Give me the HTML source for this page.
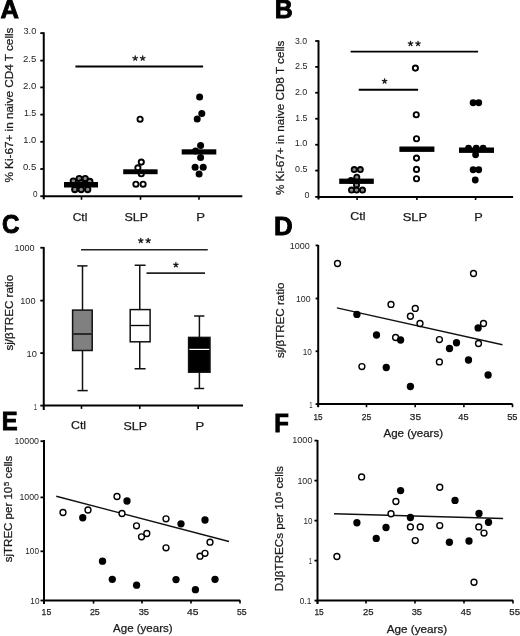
<!DOCTYPE html>
<html><head><meta charset="utf-8"><title>Figure</title>
<style>html,body{margin:0;padding:0;background:#fff;overflow:hidden;}svg{display:block;will-change:transform;}text{font-family:"Liberation Sans",sans-serif;}</style>
</head><body>
<svg width="520" height="636" viewBox="0 0 520 636">
<rect width="520" height="636" fill="#fff"/>
<text x="0.41" y="18.35" font-size="26.23188405797102" font-weight="bold" fill="#000" stroke="#000" stroke-width="0.9" textLength="18.43" lengthAdjust="spacingAndGlyphs">A</text>
<text x="274.63" y="18.15" font-size="25.942028985507253" font-weight="bold" fill="#000" stroke="#000" stroke-width="0.9" textLength="18.00" lengthAdjust="spacingAndGlyphs">B</text>
<text x="1.93" y="233.05" font-size="26.086956521739143" font-weight="bold" fill="#000" stroke="#000" stroke-width="0.9" textLength="17.48" lengthAdjust="spacingAndGlyphs">C</text>
<text x="273.96" y="235.35" font-size="25.79710144927539" font-weight="bold" fill="#000" stroke="#000" stroke-width="0.9" textLength="18.73" lengthAdjust="spacingAndGlyphs">D</text>
<text x="1.85" y="429.95" font-size="25.79710144927535" font-weight="bold" fill="#000" stroke="#000" stroke-width="0.9" textLength="15.88" lengthAdjust="spacingAndGlyphs">E</text>
<text x="274.35" y="432.05" font-size="25.217391304347846" font-weight="bold" fill="#000" stroke="#000" stroke-width="0.9" textLength="14.61" lengthAdjust="spacingAndGlyphs">F</text>
<line x1="43.75" y1="32.30" x2="43.75" y2="199.30" stroke="#000" stroke-width="2"/>
<line x1="42.80" y1="196.20" x2="242.30" y2="196.20" stroke="#000" stroke-width="2"/>
<line x1="40.30" y1="33.10" x2="43.75" y2="33.10" stroke="#000" stroke-width="1.8"/>
<line x1="40.30" y1="60.60" x2="43.75" y2="60.60" stroke="#000" stroke-width="1.8"/>
<line x1="40.30" y1="87.40" x2="43.75" y2="87.40" stroke="#000" stroke-width="1.8"/>
<line x1="40.30" y1="114.60" x2="43.75" y2="114.60" stroke="#000" stroke-width="1.8"/>
<line x1="40.30" y1="141.80" x2="43.75" y2="141.80" stroke="#000" stroke-width="1.8"/>
<line x1="40.30" y1="169.00" x2="43.75" y2="169.00" stroke="#000" stroke-width="1.8"/>
<line x1="40.30" y1="196.20" x2="43.75" y2="196.20" stroke="#000" stroke-width="1.8"/>
<text x="23.48" y="34.25" font-size="9.4" font-weight="normal" fill="#1e1e1e" textLength="12.79" lengthAdjust="spacingAndGlyphs">3.0</text>
<text x="22.97" y="61.75" font-size="9.4" font-weight="normal" fill="#1e1e1e" textLength="13.37" lengthAdjust="spacingAndGlyphs">2.5</text>
<text x="22.97" y="88.50" font-size="9.4" font-weight="normal" fill="#1e1e1e" textLength="13.32" lengthAdjust="spacingAndGlyphs">2.0</text>
<text x="23.88" y="115.75" font-size="9.4" font-weight="normal" fill="#1e1e1e" textLength="12.43" lengthAdjust="spacingAndGlyphs">1.5</text>
<text x="23.25" y="143.25" font-size="9.4" font-weight="normal" fill="#1e1e1e" textLength="13.03" lengthAdjust="spacingAndGlyphs">1.0</text>
<text x="23.07" y="170.10" font-size="9.4" font-weight="normal" fill="#1e1e1e" textLength="13.26" lengthAdjust="spacingAndGlyphs">0.5</text>
<text x="33.12" y="197.00" font-size="9.4" font-weight="normal" fill="#1e1e1e" textLength="4.52" lengthAdjust="spacingAndGlyphs">0</text>
<line x1="81.50" y1="196.00" x2="81.50" y2="199.80" stroke="#000" stroke-width="1.6"/>
<line x1="140.50" y1="196.00" x2="140.50" y2="199.80" stroke="#000" stroke-width="1.6"/>
<line x1="199.00" y1="196.00" x2="199.00" y2="199.80" stroke="#000" stroke-width="1.6"/>
<text x="72.65" y="220.60" font-size="11.2" font-weight="normal" fill="#1a1a1a" stroke="#1a1a1a" stroke-width="0.25" textLength="14.71" lengthAdjust="spacingAndGlyphs">Ctl</text>
<text x="124.54" y="221.40" font-size="11.2" font-weight="normal" fill="#1a1a1a" stroke="#1a1a1a" stroke-width="0.25" textLength="23.64" lengthAdjust="spacingAndGlyphs">SLP</text>
<text x="196.20" y="221.30" font-size="11.2" font-weight="normal" fill="#1a1a1a" stroke="#1a1a1a" stroke-width="0.25" textLength="8.73" lengthAdjust="spacingAndGlyphs">P</text>
<text transform="translate(13.30,182.56) rotate(-90)" font-size="11.4" fill="#1a1a1a" stroke="#1a1a1a" stroke-width="0.25" textLength="155.02" lengthAdjust="spacingAndGlyphs">% Ki-67+ in naive CD4 T cells</text>
<line x1="75.40" y1="66.50" x2="203.10" y2="66.50" stroke="#000" stroke-width="1.8"/>
<path d="M135.20 58.25L135.20 55.90M135.20 58.25L137.43 57.52M135.20 58.25L136.58 60.15M135.20 58.25L133.82 60.15M135.20 58.25L132.97 57.52" stroke="#1a1a1a" stroke-width="1.3" stroke-linecap="round" fill="none"/>
<path d="M142.70 58.25L142.70 55.90M142.70 58.25L144.93 57.52M142.70 58.25L144.08 60.15M142.70 58.25L141.32 60.15M142.70 58.25L140.47 57.52" stroke="#1a1a1a" stroke-width="1.3" stroke-linecap="round" fill="none"/>
<circle cx="79.2" cy="178.6" r="2.7" fill="#888" stroke="#000" stroke-width="1.9"/>
<circle cx="85.2" cy="178.6" r="2.7" fill="#888" stroke="#000" stroke-width="1.9"/>
<circle cx="73.3" cy="181.1" r="2.7" fill="#888" stroke="#000" stroke-width="1.9"/>
<circle cx="89.8" cy="181.5" r="2.7" fill="#888" stroke="#000" stroke-width="1.9"/>
<circle cx="81" cy="183" r="2.7" fill="#888" stroke="#000" stroke-width="1.9"/>
<circle cx="74.8" cy="189.5" r="2.7" fill="#888" stroke="#000" stroke-width="1.9"/>
<circle cx="81.2" cy="189.5" r="2.7" fill="#888" stroke="#000" stroke-width="1.9"/>
<circle cx="87.7" cy="189.5" r="2.7" fill="#888" stroke="#000" stroke-width="1.9"/>
<rect x="64.00" y="182.00" width="34.00" height="5.50" fill="#000"/>
<circle cx="140.1" cy="119.2" r="2.6" fill="#fff" stroke="#000" stroke-width="1.9"/>
<circle cx="141.3" cy="162.1" r="2.6" fill="#fff" stroke="#000" stroke-width="1.9"/>
<circle cx="137.9" cy="167.8" r="2.6" fill="#fff" stroke="#000" stroke-width="1.9"/>
<circle cx="141.3" cy="173.8" r="2.6" fill="#fff" stroke="#000" stroke-width="1.9"/>
<circle cx="135.9" cy="184.2" r="2.6" fill="#fff" stroke="#000" stroke-width="1.9"/>
<circle cx="143.1" cy="184.2" r="2.6" fill="#fff" stroke="#000" stroke-width="1.9"/>
<rect x="123.20" y="169.30" width="34.40" height="4.90" fill="#000"/>
<circle cx="199.6" cy="97" r="3.5" fill="#000"/>
<circle cx="201.8" cy="113.4" r="3.5" fill="#000"/>
<circle cx="197.2" cy="119.1" r="3.5" fill="#000"/>
<circle cx="200.6" cy="145.5" r="3.5" fill="#000"/>
<circle cx="195.5" cy="151" r="3.5" fill="#000"/>
<circle cx="200.6" cy="157.5" r="3.5" fill="#000"/>
<circle cx="195.1" cy="167.2" r="3.5" fill="#000"/>
<circle cx="203.2" cy="167.2" r="3.5" fill="#000"/>
<circle cx="199.1" cy="173.9" r="3.5" fill="#000"/>
<rect x="181.70" y="149.30" width="34.60" height="5.20" fill="#000"/>
<line x1="318.50" y1="40.30" x2="318.50" y2="199.50" stroke="#000" stroke-width="2"/>
<line x1="317.50" y1="196.90" x2="513.10" y2="196.90" stroke="#000" stroke-width="2"/>
<line x1="315.20" y1="41.00" x2="318.50" y2="41.00" stroke="#000" stroke-width="1.8"/>
<line x1="315.20" y1="66.90" x2="318.50" y2="66.90" stroke="#000" stroke-width="1.8"/>
<line x1="315.20" y1="92.75" x2="318.50" y2="92.75" stroke="#000" stroke-width="1.8"/>
<line x1="315.20" y1="118.75" x2="318.50" y2="118.75" stroke="#000" stroke-width="1.8"/>
<line x1="315.20" y1="144.75" x2="318.50" y2="144.75" stroke="#000" stroke-width="1.8"/>
<line x1="315.20" y1="170.60" x2="318.50" y2="170.60" stroke="#000" stroke-width="1.8"/>
<line x1="315.20" y1="196.90" x2="318.50" y2="196.90" stroke="#000" stroke-width="1.8"/>
<text x="295.00" y="43.50" font-size="9.0" font-weight="normal" fill="#1e1e1e" textLength="12.16" lengthAdjust="spacingAndGlyphs">3.0</text>
<text x="294.90" y="69.25" font-size="9.0" font-weight="normal" fill="#1e1e1e" textLength="12.51" lengthAdjust="spacingAndGlyphs">2.5</text>
<text x="294.90" y="95.10" font-size="9.0" font-weight="normal" fill="#1e1e1e" textLength="12.46" lengthAdjust="spacingAndGlyphs">2.0</text>
<text x="295.30" y="120.50" font-size="9.0" font-weight="normal" fill="#1e1e1e" textLength="12.10" lengthAdjust="spacingAndGlyphs">1.5</text>
<text x="294.66" y="146.40" font-size="9.0" font-weight="normal" fill="#1e1e1e" textLength="12.71" lengthAdjust="spacingAndGlyphs">1.0</text>
<text x="294.99" y="172.25" font-size="9.0" font-weight="normal" fill="#1e1e1e" textLength="12.42" lengthAdjust="spacingAndGlyphs">0.5</text>
<text x="304.39" y="197.60" font-size="9.0" font-weight="normal" fill="#1e1e1e" textLength="4.98" lengthAdjust="spacingAndGlyphs">0</text>
<line x1="357.10" y1="196.70" x2="357.10" y2="200.00" stroke="#000" stroke-width="1.6"/>
<line x1="416.90" y1="196.70" x2="416.90" y2="200.00" stroke="#000" stroke-width="1.6"/>
<line x1="475.60" y1="196.70" x2="475.60" y2="200.00" stroke="#000" stroke-width="1.6"/>
<text x="350.33" y="220.40" font-size="11.2" font-weight="normal" fill="#1a1a1a" stroke="#1a1a1a" stroke-width="0.25" textLength="15.15" lengthAdjust="spacingAndGlyphs">Ctl</text>
<text x="402.67" y="221.30" font-size="11.2" font-weight="normal" fill="#1a1a1a" stroke="#1a1a1a" stroke-width="0.25" textLength="24.54" lengthAdjust="spacingAndGlyphs">SLP</text>
<text x="474.33" y="221.30" font-size="11.2" font-weight="normal" fill="#1a1a1a" stroke="#1a1a1a" stroke-width="0.25" textLength="8.48" lengthAdjust="spacingAndGlyphs">P</text>
<text transform="translate(283.90,195.06) rotate(-90)" font-size="11.4" fill="#1a1a1a" stroke="#1a1a1a" stroke-width="0.25" textLength="154.51" lengthAdjust="spacingAndGlyphs">% Ki-67+ in naive CD8 T cells</text>
<line x1="350.60" y1="51.60" x2="478.10" y2="51.60" stroke="#000" stroke-width="1.8"/>
<path d="M410.50 43.65L410.50 41.30M410.50 43.65L412.73 42.92M410.50 43.65L411.88 45.55M410.50 43.65L409.12 45.55M410.50 43.65L408.27 42.92" stroke="#1a1a1a" stroke-width="1.3" stroke-linecap="round" fill="none"/>
<path d="M418.00 43.65L418.00 41.30M418.00 43.65L420.23 42.92M418.00 43.65L419.38 45.55M418.00 43.65L416.62 45.55M418.00 43.65L415.77 42.92" stroke="#1a1a1a" stroke-width="1.3" stroke-linecap="round" fill="none"/>
<line x1="358.75" y1="89.75" x2="418.10" y2="89.75" stroke="#000" stroke-width="1.8"/>
<path d="M384.60 81.15L384.60 78.80M384.60 81.15L386.83 80.42M384.60 81.15L385.98 83.05M384.60 81.15L383.22 83.05M384.60 81.15L382.37 80.42" stroke="#1a1a1a" stroke-width="1.3" stroke-linecap="round" fill="none"/>
<circle cx="354.2" cy="169.6" r="2.6" fill="#888" stroke="#000" stroke-width="1.8"/>
<circle cx="360.3" cy="169.6" r="2.6" fill="#888" stroke="#000" stroke-width="1.8"/>
<circle cx="356.8" cy="177.3" r="2.6" fill="#888" stroke="#000" stroke-width="1.8"/>
<circle cx="351" cy="180.6" r="2.6" fill="#888" stroke="#000" stroke-width="1.8"/>
<circle cx="356.5" cy="185" r="2.6" fill="#888" stroke="#000" stroke-width="1.8"/>
<circle cx="351.5" cy="190.1" r="2.6" fill="#888" stroke="#000" stroke-width="1.8"/>
<circle cx="356.5" cy="190.1" r="2.6" fill="#888" stroke="#000" stroke-width="1.8"/>
<circle cx="362.5" cy="190.1" r="2.6" fill="#888" stroke="#000" stroke-width="1.8"/>
<rect x="339.20" y="178.60" width="34.60" height="5.30" fill="#000"/>
<circle cx="415.4" cy="68.1" r="2.6" fill="#fff" stroke="#000" stroke-width="1.9"/>
<circle cx="416.25" cy="114.75" r="2.6" fill="#fff" stroke="#000" stroke-width="1.9"/>
<circle cx="416.5" cy="138.75" r="2.6" fill="#fff" stroke="#000" stroke-width="1.9"/>
<circle cx="416.5" cy="158.1" r="2.6" fill="#fff" stroke="#000" stroke-width="1.9"/>
<circle cx="416.5" cy="169.4" r="2.6" fill="#fff" stroke="#000" stroke-width="1.9"/>
<circle cx="416.5" cy="178.75" r="2.6" fill="#fff" stroke="#000" stroke-width="1.9"/>
<rect x="399.40" y="146.50" width="35.00" height="5.40" fill="#000"/>
<circle cx="473.1" cy="102.75" r="3.4" fill="#000"/>
<circle cx="478.75" cy="102.75" r="3.4" fill="#000"/>
<circle cx="468.5" cy="148.2" r="3.4" fill="#000"/>
<circle cx="476.25" cy="148.2" r="3.4" fill="#000"/>
<circle cx="483.1" cy="148.2" r="3.4" fill="#000"/>
<circle cx="475.6" cy="154.75" r="3.4" fill="#000"/>
<circle cx="473.1" cy="169.75" r="3.4" fill="#000"/>
<circle cx="478.75" cy="169.75" r="3.4" fill="#000"/>
<circle cx="475.25" cy="180" r="3.4" fill="#000"/>
<rect x="459.00" y="147.50" width="35.00" height="5.40" fill="#000"/>
<line x1="43.75" y1="247.00" x2="43.75" y2="410.00" stroke="#000" stroke-width="2"/>
<line x1="42.80" y1="405.60" x2="243.00" y2="405.60" stroke="#000" stroke-width="2"/>
<line x1="40.30" y1="247.75" x2="43.75" y2="247.75" stroke="#000" stroke-width="1.8"/>
<line x1="40.30" y1="300.60" x2="43.75" y2="300.60" stroke="#000" stroke-width="1.8"/>
<line x1="40.30" y1="353.10" x2="43.75" y2="353.10" stroke="#000" stroke-width="1.8"/>
<line x1="40.30" y1="405.60" x2="43.75" y2="405.60" stroke="#000" stroke-width="1.8"/>
<text x="14.42" y="251.30" font-size="9.2" font-weight="normal" fill="#1e1e1e" textLength="20.14" lengthAdjust="spacingAndGlyphs">1000</text>
<text x="20.26" y="304.15" font-size="9.2" font-weight="normal" fill="#1e1e1e" textLength="15.34" lengthAdjust="spacingAndGlyphs">100</text>
<text x="26.55" y="356.90" font-size="9.2" font-weight="normal" fill="#1e1e1e" textLength="10.34" lengthAdjust="spacingAndGlyphs">10</text>
<text x="33.75" y="409.80" font-size="9.0" font-weight="normal" fill="#333" textLength="3.32" lengthAdjust="spacingAndGlyphs">1</text>
<line x1="81.50" y1="405.40" x2="81.50" y2="408.90" stroke="#000" stroke-width="1.6"/>
<line x1="139.75" y1="405.40" x2="139.75" y2="408.90" stroke="#000" stroke-width="1.6"/>
<line x1="198.20" y1="405.40" x2="198.20" y2="408.90" stroke="#000" stroke-width="1.6"/>
<text x="70.98" y="429.40" font-size="11.2" font-weight="normal" fill="#1a1a1a" stroke="#1a1a1a" stroke-width="0.25" textLength="15.10" lengthAdjust="spacingAndGlyphs">Ctl</text>
<text x="123.54" y="430.00" font-size="11.2" font-weight="normal" fill="#1a1a1a" stroke="#1a1a1a" stroke-width="0.25" textLength="23.64" lengthAdjust="spacingAndGlyphs">SLP</text>
<text x="195.50" y="429.90" font-size="11.2" font-weight="normal" fill="#1a1a1a" stroke="#1a1a1a" stroke-width="0.25" textLength="8.73" lengthAdjust="spacingAndGlyphs">P</text>
<text transform="translate(12.60,350.60) rotate(-90)" font-size="11.0" fill="#1a1a1a" stroke="#1a1a1a" stroke-width="0.25" textLength="75.72" lengthAdjust="spacingAndGlyphs">sj/βTREC ratio</text>
<line x1="81.00" y1="249.75" x2="207.75" y2="249.75" stroke="#222" stroke-width="1.7"/>
<path d="M140.80 240.65L140.80 238.30M140.80 240.65L143.03 239.92M140.80 240.65L142.18 242.55M140.80 240.65L139.42 242.55M140.80 240.65L138.57 239.92" stroke="#1a1a1a" stroke-width="1.3" stroke-linecap="round" fill="none"/>
<path d="M148.20 240.65L148.20 238.30M148.20 240.65L150.43 239.92M148.20 240.65L149.58 242.55M148.20 240.65L146.82 242.55M148.20 240.65L145.97 239.92" stroke="#1a1a1a" stroke-width="1.3" stroke-linecap="round" fill="none"/>
<line x1="146.50" y1="273.10" x2="205.00" y2="273.10" stroke="#222" stroke-width="1.7"/>
<path d="M175.90 264.90L175.90 262.55M175.90 264.90L178.13 264.17M175.90 264.90L177.28 266.80M175.90 264.90L174.52 266.80M175.90 264.90L173.67 264.17" stroke="#1a1a1a" stroke-width="1.3" stroke-linecap="round" fill="none"/>
<line x1="82.50" y1="265.90" x2="82.50" y2="310.10" stroke="#111" stroke-width="1.5"/>
<line x1="82.50" y1="350.50" x2="82.50" y2="390.60" stroke="#111" stroke-width="1.5"/>
<line x1="77.25" y1="265.90" x2="87.50" y2="265.90" stroke="#111" stroke-width="1.5"/>
<line x1="77.50" y1="390.60" x2="87.75" y2="390.60" stroke="#111" stroke-width="1.5"/>
<rect x="72.60" y="310.10" width="19.60" height="40.40" fill="#808080" stroke="#111" stroke-width="1.5"/>
<line x1="73.35" y1="334.00" x2="91.45" y2="334.00" stroke="#000" stroke-width="1.35"/>
<line x1="139.75" y1="265.25" x2="139.75" y2="309.60" stroke="#111" stroke-width="1.5"/>
<line x1="139.75" y1="341.80" x2="139.75" y2="368.75" stroke="#111" stroke-width="1.5"/>
<line x1="134.70" y1="265.25" x2="145.60" y2="265.25" stroke="#111" stroke-width="1.5"/>
<line x1="134.60" y1="368.75" x2="145.60" y2="368.75" stroke="#111" stroke-width="1.5"/>
<rect x="130.20" y="309.60" width="19.90" height="32.20" fill="#fff" stroke="#111" stroke-width="1.5"/>
<line x1="130.95" y1="325.50" x2="149.35" y2="325.50" stroke="#000" stroke-width="1.35"/>
<line x1="199.40" y1="316.00" x2="199.40" y2="337.40" stroke="#111" stroke-width="1.5"/>
<line x1="199.40" y1="372.20" x2="199.40" y2="388.50" stroke="#111" stroke-width="1.5"/>
<line x1="194.10" y1="316.00" x2="204.40" y2="316.00" stroke="#111" stroke-width="1.5"/>
<line x1="194.30" y1="388.50" x2="204.20" y2="388.50" stroke="#111" stroke-width="1.5"/>
<rect x="188.60" y="337.40" width="21.40" height="34.80" fill="#000" stroke="#111" stroke-width="1.5"/>
<line x1="189.35" y1="349.40" x2="209.25" y2="349.40" stroke="#fff" stroke-width="1.2"/>
<line x1="318.20" y1="245.00" x2="318.20" y2="407.00" stroke="#000" stroke-width="2"/>
<line x1="317.20" y1="404.10" x2="512.50" y2="404.10" stroke="#000" stroke-width="2"/>
<line x1="315.60" y1="245.40" x2="318.20" y2="245.40" stroke="#000" stroke-width="1.8"/>
<line x1="315.60" y1="298.50" x2="318.20" y2="298.50" stroke="#000" stroke-width="1.8"/>
<line x1="315.60" y1="351.25" x2="318.20" y2="351.25" stroke="#000" stroke-width="1.8"/>
<line x1="315.60" y1="404.10" x2="318.20" y2="404.10" stroke="#000" stroke-width="1.8"/>
<text x="289.67" y="249.40" font-size="9.2" font-weight="normal" fill="#1e1e1e" textLength="20.04" lengthAdjust="spacingAndGlyphs">1000</text>
<text x="295.94" y="301.90" font-size="9.2" font-weight="normal" fill="#1e1e1e" textLength="14.65" lengthAdjust="spacingAndGlyphs">100</text>
<text x="302.74" y="355.00" font-size="9.2" font-weight="normal" fill="#1e1e1e" textLength="9.12" lengthAdjust="spacingAndGlyphs">10</text>
<text x="309.15" y="407.80" font-size="9.0" font-weight="normal" fill="#333" textLength="3.32" lengthAdjust="spacingAndGlyphs">1</text>
<line x1="318.20" y1="403.90" x2="318.20" y2="407.20" stroke="#000" stroke-width="1.6"/>
<line x1="366.50" y1="403.90" x2="366.50" y2="407.20" stroke="#000" stroke-width="1.6"/>
<line x1="415.20" y1="403.90" x2="415.20" y2="407.20" stroke="#000" stroke-width="1.6"/>
<line x1="463.90" y1="403.90" x2="463.90" y2="407.20" stroke="#000" stroke-width="1.6"/>
<line x1="512.50" y1="403.90" x2="512.50" y2="407.20" stroke="#000" stroke-width="1.6"/>
<text x="313.49" y="419.60" font-size="9.8" font-weight="normal" fill="#1e1e1e" stroke="#1e1e1e" stroke-width="0.25" textLength="9.00" lengthAdjust="spacingAndGlyphs">15</text>
<text x="361.83" y="419.90" font-size="9.8" font-weight="normal" fill="#1e1e1e" stroke="#1e1e1e" stroke-width="0.25" textLength="9.43" lengthAdjust="spacingAndGlyphs">25</text>
<text x="409.85" y="420.10" font-size="9.8" font-weight="normal" fill="#1e1e1e" stroke="#1e1e1e" stroke-width="0.25" textLength="11.23" lengthAdjust="spacingAndGlyphs">35</text>
<text x="458.27" y="420.10" font-size="9.8" font-weight="normal" fill="#1e1e1e" stroke="#1e1e1e" stroke-width="0.25" textLength="10.28" lengthAdjust="spacingAndGlyphs">45</text>
<text x="507.23" y="420.10" font-size="9.8" font-weight="normal" fill="#1e1e1e" stroke="#1e1e1e" stroke-width="0.25" textLength="10.31" lengthAdjust="spacingAndGlyphs">55</text>
<text x="383.45" y="437.40" font-size="10.6" font-weight="normal" fill="#1a1a1a" stroke="#1a1a1a" stroke-width="0.25" textLength="59.63" lengthAdjust="spacingAndGlyphs">Age (years)</text>
<text transform="translate(283.50,358.10) rotate(-90)" font-size="11.0" fill="#1a1a1a" stroke="#1a1a1a" stroke-width="0.25" textLength="75.62" lengthAdjust="spacingAndGlyphs">sj/βTREC ratio</text>
<line x1="336.90" y1="307.80" x2="502.50" y2="344.75" stroke="#111" stroke-width="1.35"/>
<circle cx="337.5" cy="263.5" r="2.95" fill="#fff" stroke="#000" stroke-width="1.4"/>
<circle cx="391" cy="304.4" r="2.95" fill="#fff" stroke="#000" stroke-width="1.4"/>
<circle cx="415.25" cy="308.4" r="2.95" fill="#fff" stroke="#000" stroke-width="1.4"/>
<circle cx="410.4" cy="316.25" r="2.95" fill="#fff" stroke="#000" stroke-width="1.4"/>
<circle cx="420" cy="323.5" r="2.95" fill="#fff" stroke="#000" stroke-width="1.4"/>
<circle cx="395.6" cy="337.5" r="2.95" fill="#fff" stroke="#000" stroke-width="1.4"/>
<circle cx="439.4" cy="339.6" r="2.95" fill="#fff" stroke="#000" stroke-width="1.4"/>
<circle cx="361.9" cy="366.6" r="2.95" fill="#fff" stroke="#000" stroke-width="1.4"/>
<circle cx="439.4" cy="361.9" r="2.95" fill="#fff" stroke="#000" stroke-width="1.4"/>
<circle cx="473.5" cy="273.5" r="2.95" fill="#fff" stroke="#000" stroke-width="1.4"/>
<circle cx="483.5" cy="323.5" r="2.95" fill="#fff" stroke="#000" stroke-width="1.4"/>
<circle cx="478.5" cy="343.5" r="2.95" fill="#fff" stroke="#000" stroke-width="1.4"/>
<circle cx="356.9" cy="314.4" r="3.65" fill="#000"/>
<circle cx="376.5" cy="335" r="3.65" fill="#000"/>
<circle cx="400.6" cy="340" r="3.65" fill="#000"/>
<circle cx="386.25" cy="367.5" r="3.65" fill="#000"/>
<circle cx="410.4" cy="386.5" r="3.65" fill="#000"/>
<circle cx="449.5" cy="348.5" r="3.65" fill="#000"/>
<circle cx="456.5" cy="342.75" r="3.65" fill="#000"/>
<circle cx="478.1" cy="327.9" r="3.65" fill="#000"/>
<circle cx="468.5" cy="360" r="3.65" fill="#000"/>
<circle cx="488.1" cy="375" r="3.65" fill="#000"/>
<line x1="44.00" y1="440.00" x2="44.00" y2="604.00" stroke="#000" stroke-width="2"/>
<line x1="43.00" y1="600.40" x2="240.20" y2="600.40" stroke="#000" stroke-width="2"/>
<line x1="40.50" y1="441.20" x2="44.00" y2="441.20" stroke="#000" stroke-width="1.8"/>
<line x1="40.50" y1="497.40" x2="44.00" y2="497.40" stroke="#000" stroke-width="1.8"/>
<line x1="40.50" y1="551.30" x2="44.00" y2="551.30" stroke="#000" stroke-width="1.8"/>
<line x1="40.50" y1="600.50" x2="44.00" y2="600.50" stroke="#000" stroke-width="1.8"/>
<text x="14.44" y="443.90" font-size="9.6" font-weight="normal" fill="#1e1e1e" textLength="24.53" lengthAdjust="spacingAndGlyphs">10000</text>
<text x="19.44" y="500.40" font-size="9.6" font-weight="normal" fill="#1e1e1e" textLength="19.51" lengthAdjust="spacingAndGlyphs">1000</text>
<text x="25.34" y="554.10" font-size="9.6" font-weight="normal" fill="#1e1e1e" textLength="13.63" lengthAdjust="spacingAndGlyphs">100</text>
<text x="30.34" y="604.00" font-size="9.6" font-weight="normal" fill="#1e1e1e" textLength="9.12" lengthAdjust="spacingAndGlyphs">10</text>
<line x1="44.00" y1="600.20" x2="44.00" y2="603.60" stroke="#000" stroke-width="1.6"/>
<line x1="93.50" y1="600.20" x2="93.50" y2="603.60" stroke="#000" stroke-width="1.6"/>
<line x1="142.00" y1="600.20" x2="142.00" y2="603.60" stroke="#000" stroke-width="1.6"/>
<line x1="191.00" y1="600.20" x2="191.00" y2="603.60" stroke="#000" stroke-width="1.6"/>
<line x1="240.00" y1="600.20" x2="240.00" y2="603.60" stroke="#000" stroke-width="1.6"/>
<text x="41.60" y="614.60" font-size="9.8" font-weight="normal" fill="#1e1e1e" stroke="#1e1e1e" stroke-width="0.25" textLength="9.67" lengthAdjust="spacingAndGlyphs">15</text>
<text x="89.91" y="614.80" font-size="9.8" font-weight="normal" fill="#1e1e1e" stroke="#1e1e1e" stroke-width="0.25" textLength="9.87" lengthAdjust="spacingAndGlyphs">25</text>
<text x="138.68" y="614.80" font-size="9.8" font-weight="normal" fill="#1e1e1e" stroke="#1e1e1e" stroke-width="0.25" textLength="10.37" lengthAdjust="spacingAndGlyphs">35</text>
<text x="187.04" y="615.00" font-size="9.8" font-weight="normal" fill="#1e1e1e" stroke="#1e1e1e" stroke-width="0.25" textLength="11.44" lengthAdjust="spacingAndGlyphs">45</text>
<text x="236.90" y="614.90" font-size="9.8" font-weight="normal" fill="#1e1e1e" stroke="#1e1e1e" stroke-width="0.25" textLength="9.61" lengthAdjust="spacingAndGlyphs">55</text>
<text x="113.10" y="632.20" font-size="10.6" font-weight="normal" fill="#1a1a1a" stroke="#1a1a1a" stroke-width="0.25" textLength="59.53" lengthAdjust="spacingAndGlyphs">Age (years)</text>
<text transform="translate(12.40,562.30) rotate(-90)" font-size="10.8" fill="#1a1a1a" stroke="#1a1a1a" stroke-width="0.25" textLength="75.58" lengthAdjust="spacingAndGlyphs">sjTREC per 10</text>
<text transform="translate(9.00,486.00) rotate(-90)" font-size="7.0" fill="#1a1a1a" stroke="#1a1a1a" stroke-width="0.25" textLength="4.22" lengthAdjust="spacingAndGlyphs">5</text>
<text transform="translate(12.40,478.40) rotate(-90)" font-size="10.8" fill="#1a1a1a" stroke="#1a1a1a" stroke-width="0.25" textLength="22.60" lengthAdjust="spacingAndGlyphs">cells</text>
<line x1="56.25" y1="496.25" x2="229.00" y2="541.50" stroke="#111" stroke-width="1.35"/>
<circle cx="63" cy="512.5" r="2.95" fill="#fff" stroke="#000" stroke-width="1.4"/>
<circle cx="88" cy="510" r="2.95" fill="#fff" stroke="#000" stroke-width="1.4"/>
<circle cx="117" cy="496.5" r="2.95" fill="#fff" stroke="#000" stroke-width="1.4"/>
<circle cx="122" cy="513.5" r="2.95" fill="#fff" stroke="#000" stroke-width="1.4"/>
<circle cx="136.5" cy="525.8" r="2.95" fill="#fff" stroke="#000" stroke-width="1.4"/>
<circle cx="141.5" cy="536.8" r="2.95" fill="#fff" stroke="#000" stroke-width="1.4"/>
<circle cx="146.8" cy="533.5" r="2.95" fill="#fff" stroke="#000" stroke-width="1.4"/>
<circle cx="166" cy="518.8" r="2.95" fill="#fff" stroke="#000" stroke-width="1.4"/>
<circle cx="166" cy="547.8" r="2.95" fill="#fff" stroke="#000" stroke-width="1.4"/>
<circle cx="200" cy="556.2" r="2.95" fill="#fff" stroke="#000" stroke-width="1.4"/>
<circle cx="205" cy="553.3" r="2.95" fill="#fff" stroke="#000" stroke-width="1.4"/>
<circle cx="210" cy="542.2" r="2.95" fill="#fff" stroke="#000" stroke-width="1.4"/>
<circle cx="82.75" cy="517.75" r="3.65" fill="#000"/>
<circle cx="127" cy="501" r="3.65" fill="#000"/>
<circle cx="181" cy="523.8" r="3.65" fill="#000"/>
<circle cx="205" cy="520" r="3.65" fill="#000"/>
<circle cx="102.5" cy="561.2" r="3.65" fill="#000"/>
<circle cx="112.3" cy="579.3" r="3.65" fill="#000"/>
<circle cx="136.6" cy="585.2" r="3.65" fill="#000"/>
<circle cx="176" cy="579.6" r="3.65" fill="#000"/>
<circle cx="195.4" cy="589.7" r="3.65" fill="#000"/>
<circle cx="215" cy="579.3" r="3.65" fill="#000"/>
<line x1="317.50" y1="440.00" x2="317.50" y2="604.00" stroke="#000" stroke-width="2"/>
<line x1="316.50" y1="600.40" x2="513.10" y2="600.40" stroke="#000" stroke-width="2"/>
<line x1="314.50" y1="440.60" x2="317.50" y2="440.60" stroke="#000" stroke-width="1.8"/>
<line x1="314.50" y1="480.60" x2="317.50" y2="480.60" stroke="#000" stroke-width="1.8"/>
<line x1="314.50" y1="520.60" x2="317.50" y2="520.60" stroke="#000" stroke-width="1.8"/>
<line x1="314.50" y1="560.60" x2="317.50" y2="560.60" stroke="#000" stroke-width="1.8"/>
<line x1="314.50" y1="600.60" x2="317.50" y2="600.60" stroke="#000" stroke-width="1.8"/>
<text x="292.17" y="443.25" font-size="9.6" font-weight="normal" fill="#1e1e1e" textLength="20.30" lengthAdjust="spacingAndGlyphs">1000</text>
<text x="297.43" y="483.50" font-size="9.6" font-weight="normal" fill="#1e1e1e" textLength="14.81" lengthAdjust="spacingAndGlyphs">100</text>
<text x="303.50" y="523.50" font-size="9.6" font-weight="normal" fill="#1e1e1e" textLength="8.95" lengthAdjust="spacingAndGlyphs">10</text>
<text x="308.68" y="563.50" font-size="9.6" font-weight="normal" fill="#1e1e1e" textLength="3.13" lengthAdjust="spacingAndGlyphs">1</text>
<text x="299.77" y="604.00" font-size="9.6" font-weight="normal" fill="#1e1e1e" textLength="11.50" lengthAdjust="spacingAndGlyphs">0.1</text>
<line x1="317.50" y1="600.20" x2="317.50" y2="603.60" stroke="#000" stroke-width="1.6"/>
<line x1="366.00" y1="600.20" x2="366.00" y2="603.60" stroke="#000" stroke-width="1.6"/>
<line x1="415.00" y1="600.20" x2="415.00" y2="603.60" stroke="#000" stroke-width="1.6"/>
<line x1="464.00" y1="600.20" x2="464.00" y2="603.60" stroke="#000" stroke-width="1.6"/>
<line x1="513.00" y1="600.20" x2="513.00" y2="603.60" stroke="#000" stroke-width="1.6"/>
<text x="314.47" y="614.70" font-size="9.8" font-weight="normal" fill="#1e1e1e" stroke="#1e1e1e" stroke-width="0.25" textLength="9.28" lengthAdjust="spacingAndGlyphs">15</text>
<text x="362.97" y="614.90" font-size="9.8" font-weight="normal" fill="#1e1e1e" stroke="#1e1e1e" stroke-width="0.25" textLength="10.58" lengthAdjust="spacingAndGlyphs">25</text>
<text x="411.68" y="615.10" font-size="9.8" font-weight="normal" fill="#1e1e1e" stroke="#1e1e1e" stroke-width="0.25" textLength="10.37" lengthAdjust="spacingAndGlyphs">35</text>
<text x="460.77" y="614.90" font-size="9.8" font-weight="normal" fill="#1e1e1e" stroke="#1e1e1e" stroke-width="0.25" textLength="10.28" lengthAdjust="spacingAndGlyphs">45</text>
<text x="509.37" y="614.90" font-size="9.8" font-weight="normal" fill="#1e1e1e" stroke="#1e1e1e" stroke-width="0.25" textLength="10.69" lengthAdjust="spacingAndGlyphs">55</text>
<text x="386.65" y="633.20" font-size="10.6" font-weight="normal" fill="#1a1a1a" stroke="#1a1a1a" stroke-width="0.25" textLength="60.55" lengthAdjust="spacingAndGlyphs">Age (years)</text>
<text transform="translate(283.30,591.33) rotate(-90)" font-size="10.8" fill="#1a1a1a" stroke="#1a1a1a" stroke-width="0.25" textLength="94.42" lengthAdjust="spacingAndGlyphs">DJβTRECs per 10</text>
<text transform="translate(280.70,495.89) rotate(-90)" font-size="7.6" fill="#1a1a1a" stroke="#1a1a1a" stroke-width="0.25" textLength="4.10" lengthAdjust="spacingAndGlyphs">5</text>
<text transform="translate(283.30,488.60) rotate(-90)" font-size="10.8" fill="#1a1a1a" stroke="#1a1a1a" stroke-width="0.25" textLength="22.40" lengthAdjust="spacingAndGlyphs">cells</text>
<line x1="334.00" y1="513.75" x2="503.10" y2="518.50" stroke="#111" stroke-width="1.35"/>
<circle cx="336.9" cy="556.5" r="2.95" fill="#fff" stroke="#000" stroke-width="1.4"/>
<circle cx="361.6" cy="476.9" r="2.95" fill="#fff" stroke="#000" stroke-width="1.4"/>
<circle cx="395.9" cy="501.5" r="2.95" fill="#fff" stroke="#000" stroke-width="1.4"/>
<circle cx="391" cy="513.75" r="2.95" fill="#fff" stroke="#000" stroke-width="1.4"/>
<circle cx="410.4" cy="526.9" r="2.95" fill="#fff" stroke="#000" stroke-width="1.4"/>
<circle cx="420.25" cy="526.9" r="2.95" fill="#fff" stroke="#000" stroke-width="1.4"/>
<circle cx="415.25" cy="540.6" r="2.95" fill="#fff" stroke="#000" stroke-width="1.4"/>
<circle cx="439.75" cy="487.25" r="2.95" fill="#fff" stroke="#000" stroke-width="1.4"/>
<circle cx="439.75" cy="525.6" r="2.95" fill="#fff" stroke="#000" stroke-width="1.4"/>
<circle cx="478.75" cy="526.9" r="2.95" fill="#fff" stroke="#000" stroke-width="1.4"/>
<circle cx="484" cy="533.1" r="2.95" fill="#fff" stroke="#000" stroke-width="1.4"/>
<circle cx="474" cy="582.25" r="2.95" fill="#fff" stroke="#000" stroke-width="1.4"/>
<circle cx="356.9" cy="522.75" r="3.65" fill="#000"/>
<circle cx="376.25" cy="538.4" r="3.65" fill="#000"/>
<circle cx="400.6" cy="490.6" r="3.65" fill="#000"/>
<circle cx="410.4" cy="517.5" r="3.65" fill="#000"/>
<circle cx="386" cy="527.5" r="3.65" fill="#000"/>
<circle cx="455" cy="500.4" r="3.65" fill="#000"/>
<circle cx="449.4" cy="542.25" r="3.65" fill="#000"/>
<circle cx="469" cy="541" r="3.65" fill="#000"/>
<circle cx="479" cy="513.5" r="3.65" fill="#000"/>
<circle cx="488.5" cy="522.25" r="3.65" fill="#000"/>
</svg>
</body></html>
